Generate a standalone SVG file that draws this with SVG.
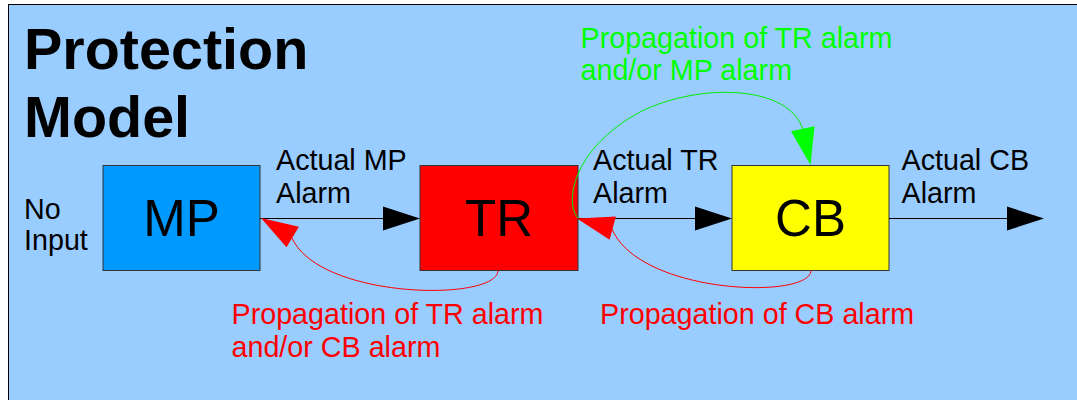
<svg xmlns="http://www.w3.org/2000/svg" width="1077" height="400" viewBox="0 0 1077 400">
  <style>
    .box { stroke: #333333; stroke-width: 1; }
    .label { font-family: "Liberation Sans", Arial, sans-serif; font-size: 28.7px; fill: #000000; }
    .title { font-family: "Liberation Sans", Arial, sans-serif; font-size: 57.5px; font-weight: bold; fill: #000000; }
    .node-text { font-family: "Liberation Sans", Arial, sans-serif; font-size: 51px; fill: #000000; text-anchor: middle; }
    .line { fill: none; stroke: #000000; stroke-width: 1; }
    .red { fill: none; stroke: #ff0000; stroke-width: 1; }
    .green { fill: none; stroke: #00ee00; stroke-width: 1; }
    .red-text { fill: #ff0000; }
    .green-text { fill: #00ff00; }
  </style>
  <defs>
    <!-- arrowhead with its tip at the origin, pointing along +x -->
    <path id="head" d="M0,0 L-37,-12 L-37,12 Z"/>
  </defs>

  <!-- page background -->
  <rect x="8.5" y="4.5" width="1100" height="420" fill="#99ccff" stroke="#000000" stroke-width="1"/>

  <g id="title">
    <text class="title" x="24" y="69">Protection</text>
    <text class="title" x="24" y="136.5">Model</text>
  </g>

  <g id="no-input">
    <text class="label" x="24" y="219">No</text>
    <text class="label" x="24" y="250">Input</text>
  </g>

  <g id="MP">
    <rect class="box" x="103" y="165.5" width="157" height="105" fill="#0099ff"/>
    <text class="node-text" x="181.5" y="236">MP</text>
  </g>

  <g id="TR">
    <rect class="box" x="420" y="165.5" width="158" height="105" fill="#ff0000"/>
    <text class="node-text" x="499" y="236">TR</text>
  </g>

  <g id="CB">
    <rect class="box" x="732" y="165.5" width="157" height="105" fill="#ffff00"/>
    <text class="node-text" x="810.5" y="236">CB</text>
  </g>

  <g id="connectors">
    <!-- forward alarm flow -->
    <line class="line" x1="260" y1="218.5" x2="400" y2="218.5"/>
    <use href="#head" transform="translate(420,218.5)" fill="#000000"/>
    <line class="line" x1="578" y1="218.5" x2="712" y2="218.5"/>
    <use href="#head" transform="translate(732,218.5)" fill="#000000"/>
    <line class="line" x1="889" y1="218.5" x2="1020" y2="218.5"/>
    <use href="#head" transform="translate(1044,218.5)" fill="#000000"/>

    <!-- TR back to MP -->
    <path class="red" d="M498,270 C499,302 320,300 292,238"/>
    <use href="#head" transform="translate(261,218) rotate(211)" fill="#ff0000"/>

    <!-- CB back to TR -->
    <path class="red" d="M811,270 C812,300 640,295 612,229"/>
    <use href="#head" transform="translate(577,218.5) rotate(195)" fill="#ff0000"/>

    <!-- TR forward to CB -->
    <path class="green" d="M578,218 C565,205 570,150 640,112 C700,82 790,85 803,130"/>
    <use href="#head" transform="translate(810.5,165) rotate(78)" fill="#00ff00"/>
  </g>

  <g id="edge-labels">
    <text class="label" x="276" y="169.5">Actual MP</text>
    <text class="label" x="276" y="202.5">Alarm</text>
    <text class="label" x="593" y="170">Actual TR</text>
    <text class="label" x="593" y="202.5">Alarm</text>
    <text class="label" x="901.5" y="170">Actual CB</text>
    <text class="label" x="901.5" y="202.5">Alarm</text>

    <text class="label green-text" x="580.5" y="47.5">Propagation of TR alarm</text>
    <text class="label green-text" x="580.5" y="80">and/or MP alarm</text>

    <text class="label red-text" x="231.5" y="323.5">Propagation of TR alarm</text>
    <text class="label red-text" x="231.5" y="357">and/or CB alarm</text>

    <text class="label red-text" x="600" y="324">Propagation of CB alarm</text>
  </g>
</svg>
